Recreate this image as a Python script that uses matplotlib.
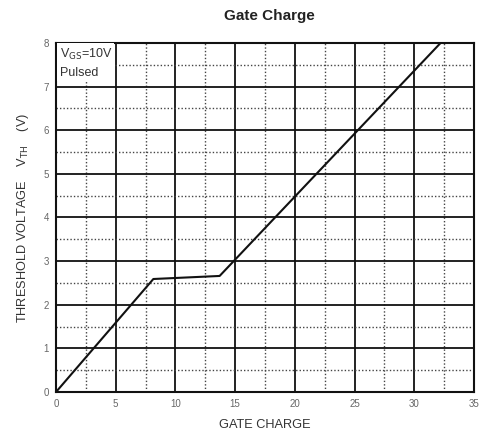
import matplotlib.pyplot as plt
import numpy as np

# threshold voltage vs gate charge
gate_charge = [0, 8.15, 13.7, 32.2]
threshold_v = [0, 2.59, 2.66, 8.0]

x_major = np.arange(0, 36, 5)
y_major = np.arange(0, 9, 1)

plt.rcParams['font.family'] = ['Liberation Sans', 'DejaVu Sans']

fig = plt.figure(figsize=(4.8, 4.32), dpi=100)
ax = fig.add_axes([0.1167, 0.0926, 0.8708, 0.8079])

ax.plot(gate_charge, threshold_v, color='#111111', lw=1.5, zorder=3)

ax.set_xlim(0, 35)
ax.set_ylim(0, 8)
ax.set_xticks(x_major)
ax.set_yticks(y_major)
ax.set_xticks(np.arange(2.5, 35, 5), minor=True)
ax.set_yticks(np.arange(0.5, 8, 1), minor=True)
ax.grid(which='major', color='#111111', lw=1.3, ls='-')
ax.grid(which='minor', color='#444444', lw=1.0, ls=(0, (1, 1.5)))
ax.tick_params(which='both', length=0, labelsize=7, labelcolor='#666666', pad=5)
for s in ax.spines.values():
    s.set_linewidth(1.5)
    s.set_color('#111111')

ax.set_xlabel('GATE CHARGE', fontsize=9.2, color='#333333', labelpad=7)
ax.set_ylabel('THRESHOLD VOLTAGE    V$_{\\mathrm{TH}}$    (V)', fontsize=9.2, color='#333333', labelpad=9)
fig.suptitle('Gate Charge', x=0.562, y=0.98, fontsize=11, fontweight='bold', color='#222222')

ax.text(0.3, 7.92, 'V$_{\\mathrm{GS}}$=10V\nPulsed', fontsize=9, color='#333333', va='top', ha='left',
        linespacing=1.6, zorder=4,
        bbox=dict(facecolor='white', edgecolor='none', pad=1.5))

fig.savefig('out.png', dpi=100)
